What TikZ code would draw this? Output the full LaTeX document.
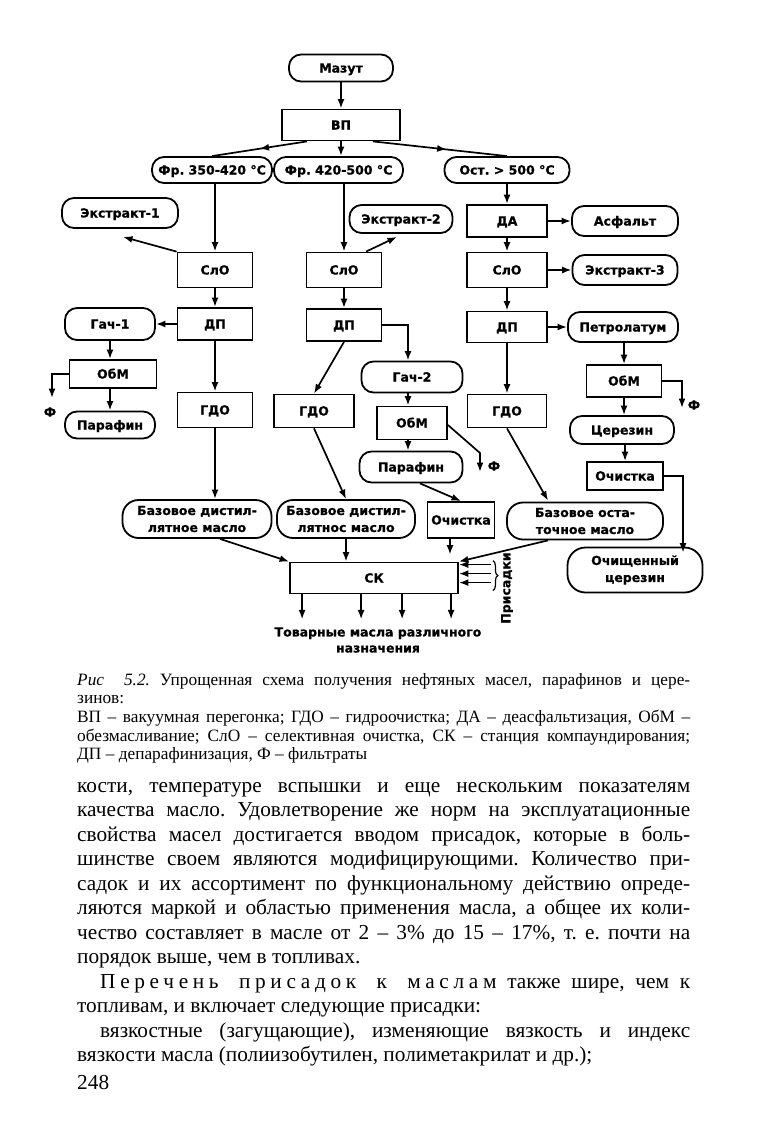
\documentclass[tikz,border=0pt]{standalone}
\usepackage{fontspec}
\setmainfont{Liberation Serif}
\newfontfamily\dg{DejaVu Sans}[BoldFeatures={FakeBold=0.8}]
\newfontfamily\spc{Liberation Serif}[LetterSpace=22]
\usetikzlibrary{arrows.meta,calc,decorations.markings,decorations.pathreplacing}
\newcommand{\dgf}{\dg\bfseries\fontsize{12.5}{17}\selectfont}
\newcommand{\capf}{\fontsize{17.3}{19}\selectfont}
\newcommand{\bodyf}{\fontsize{21.3}{24}\selectfont}
\newcommand{\jl}[2]{\makebox[#1][s]{#2}}
\frenchspacing
\tikzset{
  bx/.style 2 args={draw, line width=1.8pt, inner sep=0pt, minimum width=#1, minimum height=#2, font=\dgf, align=center, text height=9pt, text depth=0pt},
  pl/.style 2 args={bx={#1}{#2}, rounded corners=12pt},
  two/.style={text height=, text depth=},
  ar/.style={line width=1.7pt, -{Latex[length=9.5pt,width=7pt]}},
  midar/.style={line width=1.7pt, postaction={decorate}, decoration={markings, mark=at position #1 with {\arrow{Latex[length=9.5pt,width=7pt]}}}},
  lbl/.style={font=\dgf, inner sep=0pt},
  txt/.style={anchor=base west, inner sep=0pt},
}
\begin{document}
\begin{tikzpicture}[x=1pt,y=-1pt]
\useasboundingbox[fill=white] (0,0) rectangle (760,1133);

% ---- top
\node[pl={104pt}{27pt}] (mazut) at (341,68) {Мазут};
\node[bx={118pt}{31pt}] (vp) at (341,125) {ВП};
\node[pl={120pt}{26pt}] (fr1) at (212,170) {Фр. 350-420 °С};
\node[pl={129pt}{26pt}] (fr2) at (338.5,170) {Фр. 420-500 °С};
\node[pl={125pt}{26pt}] (ost) at (507,170) {Ост. > 500 °С};

% ---- column 1
\node[pl={116pt}{30pt}] (ext1) at (120,213) {Экстракт-1};
\node[bx={75pt}{35pt}] (slo1) at (215,270) {СлО};
\node[bx={75pt}{32pt}] (dp1) at (215,324) {ДП};
\node[pl={90pt}{32pt}] (gach1) at (110,324) {Гач-1};
\node[bx={87pt}{28pt}] (obm1) at (113,374) {ОбМ};
\node[pl={90pt}{27pt}] (par1) at (110,425) {Парафин};
\node[bx={75pt}{35pt}] (gdo1) at (215,410) {ГДО};

% ---- column 2
\node[bx={75pt}{35pt}] (slo2) at (344,270) {СлО};
\node[pl={103pt}{28pt}] (ext2) at (401,219) {Экстракт-2};
\node[bx={75pt}{32pt}] (dp2) at (344,325) {ДП};
\node[bx={80pt}{33pt}] (gdo2) at (314,411) {ГДО};
\node[pl={101pt}{31pt}] (gach2) at (412,377) {Гач-2};
\node[bx={70pt}{33pt}] (obm2) at (412,423) {ОбМ};
\node[pl={103pt}{31pt}] (par2) at (411,467) {Парафин};

% ---- column 3
\node[bx={80pt}{32pt}] (da) at (507,221) {ДА};
\node[pl={106pt}{30pt}] (asf) at (625,221) {Асфальт};
\node[bx={80pt}{35pt}] (slo3) at (507,270) {СлО};
\node[pl={105pt}{30pt}] (ext3) at (625,270) {Экстракт-3};
\node[bx={80pt}{31pt}] (dp3) at (507,327) {ДП};
\node[pl={110pt}{30pt}] (petr) at (623,327) {Петролатум};
\node[bx={79pt}{33pt}] (gdo3) at (507,411) {ГДО};
\node[bx={75pt}{32pt}] (obm3) at (624,381) {ОбМ};
\node[pl={104pt}{28pt}] (cer) at (622,430) {Церезин};
\node[bx={76pt}{28pt}] (och3) at (625,476) {Очистка};
\node[pl={135pt}{45pt}, two, rounded corners=18pt] (ochcer) at (635,570) {Очищенный\\церезин};

% ---- bottom row
\node[pl={149pt}{38pt}, two, rounded corners=16pt] (bdm1) at (197,519) {Базовое дистил-\\лятное масло};
\node[pl={138pt}{38pt}, two, rounded corners=16pt] (bdm2) at (346,519) {Базовое дистил-\\лятнос масло};
\node[bx={67pt}{36pt}] (och2) at (461,520) {Очистка};
\node[pl={156pt}{37pt}, two, rounded corners=16pt] (bom) at (585,521) {Базовое оста-\\точное масло};
\node[bx={168pt}{31pt}] (sk) at (374,578) {СК};

% ---- connectors top
\draw[ar] (mazut) -- (vp);
\draw[midar=0.5] ($(vp.south)+(-34,0)$) -- (fr1.north);
\draw[ar] (vp.south) -- (vp.south |- fr2.north);
\draw[midar=0.55] ($(vp.south)+(32,0)$) -- (ost.north);

% column 1
\draw[ar] (slo1.north |- fr1.south) -- (slo1.north);
\draw[ar] (slo1.north west) -- ($(ext1.south)+(3,8)$);
\draw[ar] (slo1) -- (dp1);
\draw[ar] (dp1) -- (gdo1);
\draw[ar] (dp1) -- (gach1);
\draw[ar] (gach1.south) -- (gach1.south |- obm1.north);
\draw[ar] (obm1.south -| par1.north) -- (par1.north);
\coordinate (f1) at (52,398);
\draw[ar] (obm1.west) -| (f1);
\node[lbl] (f1l) at (50,412) {Ф};
\draw[ar] (gdo1.south) -- (gdo1.south |- bdm1.north);

% column 2
\draw[ar] (fr2.south -| slo2.north) -- (slo2.north);
\draw[ar] ($(slo2.north)+(22,0)$) -- ($(ext2.south)+(-4,3)$);
\draw[ar] (slo2) -- (dp2);
\draw[ar] (dp2.south) -- (gdo2.north);
\draw[ar] (dp2.east) -| ($(gach2.north)+(-4,0)$);
\draw[ar] ($(gach2.south)+(-4,0)$) -- ($(obm2.north)+(-4,0)$);
\draw[ar] ($(obm2.south)+(-4,0)$) -- ($(par2.north)+(-3,0)$);
\coordinate (f2b) at (480,453);
\coordinate (f2) at (480,472);
\draw[ar] ($(obm2.east)+(0,2)$) -- (f2b) -- (f2);
\node[lbl] (f2l) at (494,466) {Ф};
\draw[ar] (gdo2.south) -- (bdm2.north);
\draw[ar] ($(par2.south)+(9,0)$) -- (och2.north);

% column 3
\draw[ar] (ost) -- (da);
\draw[ar] (da) -- (asf);
\draw[ar] (da) -- (slo3);
\draw[ar] (slo3) -- (ext3);
\draw[ar] (slo3) -- (dp3);
\draw[ar] (dp3) -- (petr);
\draw[ar] (dp3) -- (gdo3);
\draw[ar] (petr.south -| obm3.north) -- (obm3.north);
\draw[ar] (obm3.south) -- (obm3.south |- cer.north);
\draw[ar] (cer.south -| och3.north) -- (och3.north);
\coordinate (f3) at (682,408);
\draw[ar] (obm3.east) -| (f3);
\node[lbl] (f3l) at (694,405) {Ф};
\draw[ar] (och3.east) -| ($(ochcer.north)+(48,6)$);
\draw[ar] (gdo3.south) -- ($(bom.north)+(-37,-1)$);

% into SK
\draw[ar] ($(bdm1.south)+(23,0)$) -- (sk.north west);
\draw[ar] (bdm2.south) -- (bdm2.south |- sk.north);
\draw[ar] ($(och2.south)+(-11,0)$) -- ($(sk.north)+(76,-7)$);
\draw[ar] ($(bom.south)+(-37,0)$) -- (sk.north east);
\foreach \dy in {3,12,21} \draw[ar] ($(sk.north east)+(32,\dy)$) -- ($(sk.north east)+(0,\dy)$);
\draw[line width=1.2pt, decorate, decoration={brace, amplitude=5pt}] ($(sk.north east)+(34,-1)$) -- ($(sk.north east)+(34,29)$);
\node[lbl, rotate=90, font=\dg\bfseries\fontsize{12.5}{14}\selectfont] (pris) at (507,588) {Присадки};
\foreach \dx in {13,72,113,162} \draw[ar] ($(sk.south west)+(\dx,0)$) -- ++(0,25);
\node[lbl, align=center, font=\dg\bfseries\fontsize{12.5}{16}\selectfont] (tov) at (378,640) {Товарные масла различного\\назначения};

% ---- caption
\node[txt] (c1) at (77,685) {\capf\jl{613pt}{\textit{Рис\ \ 5.2.} Упрощенная схема получения нефтяных масел, парафинов и цере-}};
\node[txt] (c2) at (77,703) {\capf зинов:};
\node[txt] (c3) at (77,722) {\capf\jl{613pt}{ВП – вакуумная перегонка; ГДО – гидроочистка; ДА – деасфальтизация, ОбМ –}};
\node[txt] (c4) at (77,741) {\capf\jl{613pt}{обезмасливание; СлО – селективная очистка, СК – станция компаундирования;}};
\node[txt] (c5) at (77,759) {\capf ДП – депарафинизация, Ф – фильтраты};

% ---- body text
\node[txt] (b1) at (77,792) {\bodyf\jl{613pt}{кости, температуре вспышки и еще нескольким показателям}};
\node[txt] (b2) at (77,816) {\bodyf\jl{613pt}{качества масло. Удовлетворение же норм на эксплуатационные}};
\node[txt] (b3) at (77,841) {\bodyf\jl{613pt}{свойства масел достигается вводом присадок, которые в боль-}};
\node[txt] (b4) at (77,865) {\bodyf\jl{613pt}{шинстве своем являются модифицирующими. Количество при-}};
\node[txt] (b5) at (77,890) {\bodyf\jl{613pt}{садок и их ассортимент по функциональному действию опреде-}};
\node[txt] (b6) at (77,914) {\bodyf\jl{613pt}{ляются маркой и областью применения масла, а общее их коли-}};
\node[txt] (b7) at (77,939) {\bodyf\jl{613pt}{чество составляет в масле от 2 – 3\% до 15 – 17\%, т. е. почти на}};
\node[txt] (b8) at (77,963) {\bodyf порядок выше, чем в топливах.};
\node[txt] (p1) at (100,988) {\bodyf\jl{590pt}{{\spc Перечень присадок к маслам} также шире, чем к}};
\node[txt] (p2) at (77,1012) {\bodyf топливам, и включает следующие присадки:};
\node[txt] (v1) at (100,1037) {\bodyf\jl{590pt}{вязкостные (загущающие), изменяющие вязкость и индекс}};
\node[txt] (v2) at (77,1061) {\bodyf вязкости масла (полиизобутилен, полиметакрилат и др.);};
\node[txt] (pg) at (77,1089) {\bodyf 248};
\end{tikzpicture}
\end{document}
